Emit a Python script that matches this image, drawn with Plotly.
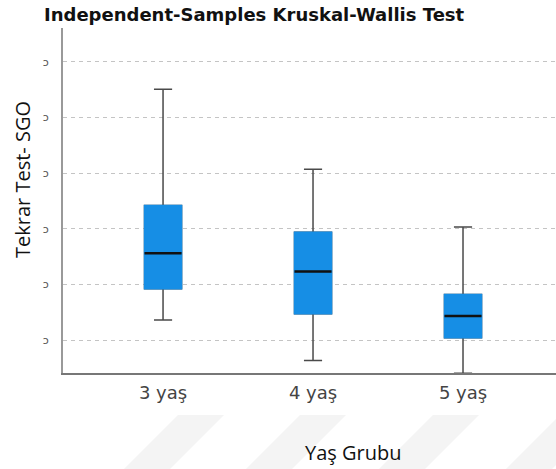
import plotly.graph_objects as go

# ---- data (y scale arbitrary, labels are cropped in the original) ----
categories = ["3 yaş", "4 yaş", "5 yaş"]
lower_whisker = [1.36, 0.63, 0.40]
q1_values = [1.92, 1.47, 1.04]
median_values = [2.56, 2.23, 1.43]
q3_values = [3.42, 2.94, 1.82]
upper_whisker = [5.51, 4.07, 3.03]
y_tick_values = [1, 2, 3, 4, 5, 6]
y_tick_text = ["ɔ", "ɔ", "ɔ", "ɔ", "ɔ", "ɔ"]

title_text = "Independent-Samples Kruskal-Wallis Test"
x_title = "Yaş Grubu"
y_title = "Tekrar Test- SGO"

W, H = 556, 469
ML, MR, MT, MB = 63, 0, 28, 96
PW, PH = W - ML - MR, H - MT - MB


def px(x):
    return (x - ML) / PW


def py(y):
    return (H - MB - y) / PH


BLUE = "#168ee5"
BOX_W = 0.247

fig = go.Figure()

# whiskers (full box, gray)
fig.add_trace(go.Box(
    x=categories, q1=q1_values, median=median_values, q3=q3_values,
    lowerfence=lower_whisker, upperfence=upper_whisker,
    line=dict(color="#4a4a4a", width=1.5), fillcolor=BLUE,
    width=BOX_W, whiskerwidth=0.49, showlegend=False, hoverinfo="skip",
))
# blue box body covering gray outline
fig.add_trace(go.Box(
    x=categories, q1=q1_values, median=median_values, q3=q3_values,
    lowerfence=q1_values, upperfence=q3_values,
    line=dict(color=BLUE, width=1.5), fillcolor=BLUE,
    width=BOX_W, whiskerwidth=0, showlegend=False, hoverinfo="skip",
))
# black median line
fig.add_trace(go.Box(
    x=categories, q1=median_values, median=median_values, q3=median_values,
    lowerfence=median_values, upperfence=median_values,
    line=dict(color="#111111", width=2.5), fillcolor="rgba(0,0,0,0)",
    width=BOX_W, whiskerwidth=0, showlegend=False, hoverinfo="skip",
))

# faint diagonal watermark stripes (decoration)
stripe_tops = [178, 300, 433, 560]
shapes = []
for xs in stripe_tops:
    w = 46
    d = 56
    path = (f"M {px(xs)} {py(415)} L {px(xs + w)} {py(415)} "
            f"L {px(xs + w - d)} {py(471)} L {px(xs - d)} {py(471)} Z")
    shapes.append(dict(type="path", xref="paper", yref="paper", path=path,
                       fillcolor="#f4f4f4", line=dict(width=0), layer="below"))

fig.update_layout(
    width=W, height=H,
    margin=dict(l=ML, r=MR, t=MT, b=MB, pad=0),
    paper_bgcolor="white", plot_bgcolor="white",
    boxmode="overlay",
    shapes=shapes,
    xaxis=dict(
        type="category", range=[-0.667, 2.62],
        showline=True, linecolor="#777777", linewidth=1.5,
        showgrid=False, zeroline=False, ticks="",
        tickfont=dict(family="DejaVu Sans", size=18, color="#444444"),
        ticklabelstandoff=3,
    ),
    yaxis=dict(
        range=[0.4065, 6.611],
        tickvals=y_tick_values, ticktext=y_tick_text,
        showline=True, linecolor="#999999", linewidth=2,
        showgrid=True, gridcolor="#c4c4c4", gridwidth=1, griddash="4px,4px",
        zeroline=False, ticks="",
        tickfont=dict(family="DejaVu Sans", size=11, color="#555555"),
        ticklabelstandoff=10,
    ),
    annotations=[
        dict(text=f"<b>{title_text}</b>", xref="paper", yref="paper",
             x=px(42), y=py(14), xanchor="left", yanchor="middle", showarrow=False,
             font=dict(family="DejaVu Sans", size=18, color="#111111")),
        dict(text=y_title, xref="paper", yref="paper", textangle=-90,
             x=px(22), y=py(180), xanchor="center", yanchor="middle", showarrow=False,
             font=dict(family="Open Sans", size=20, color="#111111")),
        dict(text=x_title, xref="paper", yref="paper",
             x=px(353), y=py(452), xanchor="center", yanchor="middle", showarrow=False,
             font=dict(family="Open Sans", size=20, color="#111111")),
    ],
)

fig.write_html(
    "out.html",
    config={"displayModeBar": False, "staticPlot": True},
    post_script="document.body.style.margin='0';document.body.style.overflow='hidden';",
)
